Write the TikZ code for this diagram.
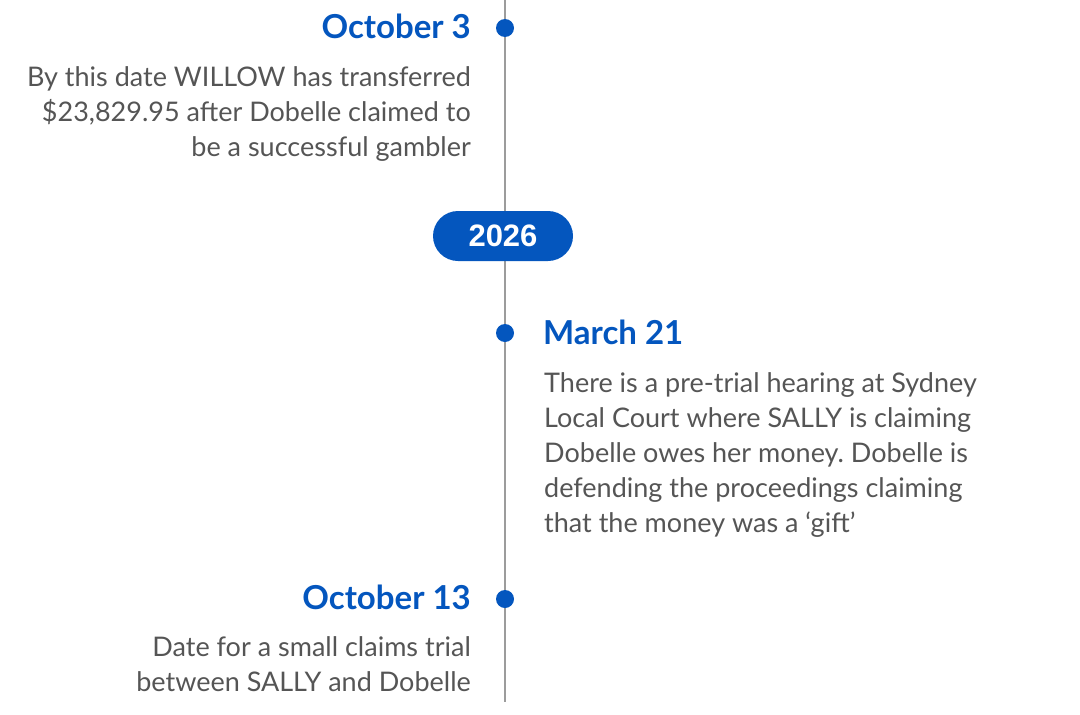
\documentclass[tikz,border=0pt]{standalone}
\usepackage{fontspec}
\setmainfont{Lato}
\newfontfamily\pillfont{Liberation Sans}
\definecolor{tlblue}{HTML}{0456BE}
\definecolor{tltext}{HTML}{555555}
\definecolor{tlline}{HTML}{9C9C9C}
\frenchspacing

\begin{document}
\begin{tikzpicture}[x=1pt,y=-1pt]
\tikzset{
  date/.style={tlblue, font=\fontsize{33}{36}\selectfont\bfseries, inner sep=0},
  body/.style={tltext, font=\fontsize{27}{35}\selectfont, inner sep=0},
  dot/.style={circle, fill=tlblue, minimum size=18, inner sep=0},
  pill/.style={fill=tlblue, text=white, rounded corners=25, minimum width=140,
    minimum height=50, inner sep=0, font=\pillfont\fontsize{31}{32}\selectfont\bfseries},
}
\useasboundingbox (0,0) rectangle (1080,715);

%the time line
\coordinate (top) at (505,0);
\coordinate (bottom) at (505,702);
\draw[tlline, line width=2] (top) -- (bottom);

%year marker
\node[pill] (year) at (503,236) {2026};

%dots on the line
\node[dot] (dot1) at (505,28) {};
\node[dot] (dot2) at (505,333) {};
\node[dot] (dot3) at (505,599) {};

%left side: October 3
\node[date, anchor=base east] (oct3) at (471,38) {October 3};
\node[body, anchor=base east, align=right] (oct3text) at (471,156)
  {By this date WILLOW has transferred\\
   \$23,829.95 after Dobelle claimed to\\
   be a successful gambler};

%right side: March 21
\node[date, anchor=base west] (mar21) at (543,344) {March 21};
\node[body, anchor=base west, align=left] (mar21text) at (544,532)
  {There is a pre-trial hearing at Sydney\\
   Local Court where SALLY is claiming\\
   Dobelle owes her money. Dobelle is\\
   defending the proceedings claiming\\
   that the money was a `gift'};

%left side: October 13
\node[date, anchor=base east] (oct13) at (471,609) {October 13};
\node[body, anchor=base east, align=right] (oct13text) at (471,691)
  {Date for a small claims trial\\
   between SALLY and Dobelle};
\end{tikzpicture}
\end{document}
